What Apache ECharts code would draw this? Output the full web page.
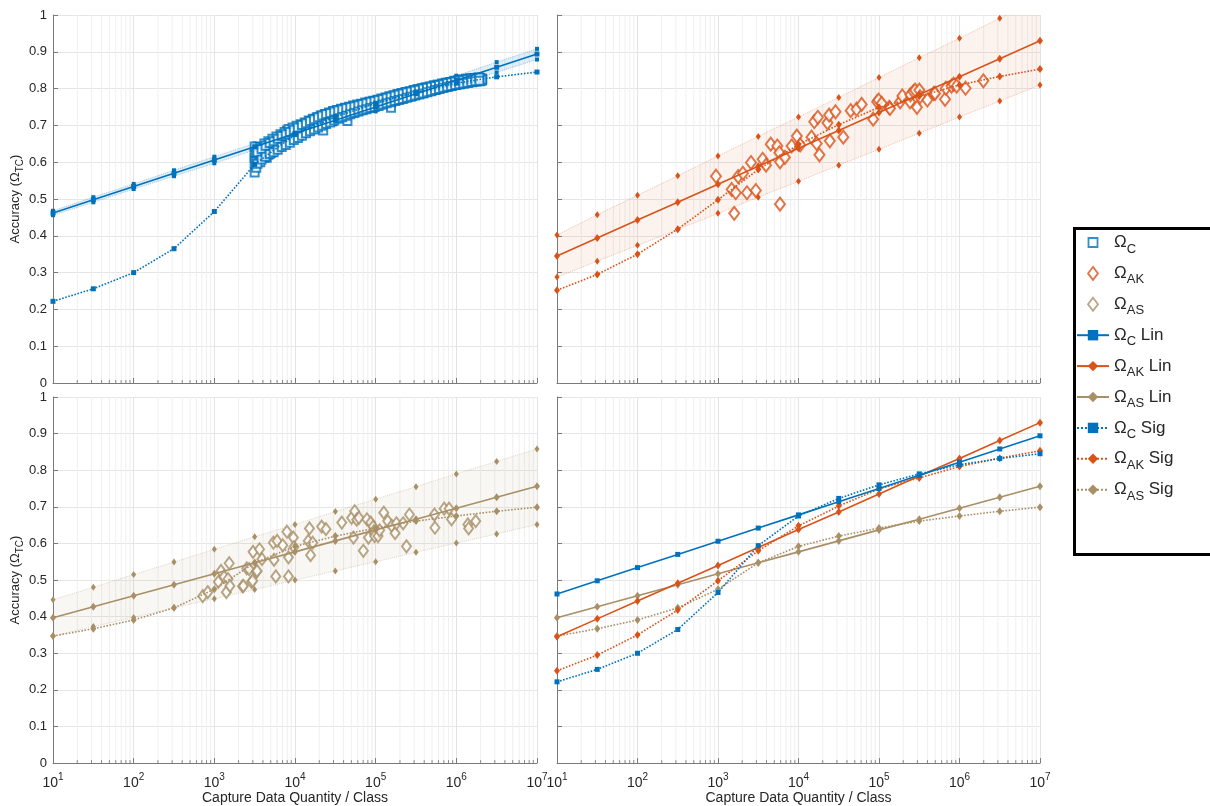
<!DOCTYPE html>
<html>
<head>
<meta charset="utf-8">
<script src="https://cdn.jsdelivr.net/npm/echarts@6/dist/echarts.min.js"></script>
<style>
  html, body { margin: 0; padding: 0; background: #fff; }
  #chart { width: 1210px; height: 806px; }
</style>
</head>
<body>
<div id="chart"></div>
<script>
// Half-decade capture quantities at which the fitted curves are evaluated
const quantities = [10, 31.62, 100, 316.2, 1000, 3162, 10000, 31623, 100000, 316228, 1000000, 3162278, 10000000];

// Ω_C: linear-in-log fit with its confidence bounds, and sigmoid fit
const cLin   = [0.462, 0.498, 0.534, 0.570, 0.606, 0.642, 0.678, 0.714, 0.750, 0.786, 0.822, 0.858, 0.894];
const cUpper = [0.468, 0.505, 0.541, 0.578, 0.615, 0.651, 0.688, 0.725, 0.762, 0.798, 0.835, 0.872, 0.908];
const cLower = [0.456, 0.491, 0.527, 0.562, 0.597, 0.633, 0.668, 0.703, 0.738, 0.774, 0.809, 0.844, 0.879];
const cSig   = [0.222, 0.256, 0.300, 0.365, 0.466, 0.594, 0.675, 0.723, 0.760, 0.790, 0.815, 0.832, 0.845];

// Ω_AK
const akLin   = [0.345, 0.394, 0.443, 0.491, 0.540, 0.589, 0.638, 0.686, 0.735, 0.784, 0.832, 0.881, 0.930];
const akUpper = [0.402, 0.457, 0.510, 0.563, 0.617, 0.670, 0.723, 0.776, 0.830, 0.884, 0.937, 0.991, 1.045];
const akLower = [0.288, 0.331, 0.374, 0.417, 0.461, 0.505, 0.548, 0.592, 0.635, 0.679, 0.723, 0.766, 0.810];
const akSig   = [0.252, 0.295, 0.350, 0.418, 0.498, 0.580, 0.648, 0.702, 0.749, 0.779, 0.810, 0.833, 0.853];

// Ω_AS
const asLin   = [0.397, 0.427, 0.457, 0.487, 0.517, 0.547, 0.577, 0.607, 0.637, 0.666, 0.696, 0.726, 0.756];
const asUpper = [0.446, 0.480, 0.515, 0.549, 0.584, 0.618, 0.652, 0.687, 0.721, 0.755, 0.790, 0.824, 0.858];
const asLower = [0.347, 0.373, 0.398, 0.424, 0.449, 0.474, 0.500, 0.525, 0.550, 0.576, 0.601, 0.626, 0.652];
const asSig   = [0.347, 0.367, 0.391, 0.424, 0.475, 0.547, 0.592, 0.620, 0.642, 0.661, 0.675, 0.688, 0.699];

// Measured Ω_C runs [quantity, accuracy]
const cRuns = [
  [3162,0.572],[3162,0.598],[3162,0.612],[3162,0.625],[3162,0.643],[3311,0.603],
  [3548,0.615],[3548,0.632],[3548,0.608],[3715,0.622],[3981,0.618],[3981,0.640],[3981,0.628],[4169,0.633],
  [4467,0.612],[4467,0.645],[4467,0.630],[4677,0.638],[5012,0.625],[5012,0.650],[5012,0.640],[5248,0.646],
  [5623,0.635],[5623,0.657],[5623,0.648],[5888,0.653],[6310,0.642],[6310,0.662],[6310,0.655],[6607,0.660],
  [7079,0.650],[7079,0.670],[7079,0.663],[7413,0.667],[7943,0.658],[7943,0.686],[7943,0.672],[8318,0.676],
  [8913,0.665],[8913,0.683],[8913,0.674],[9333,0.679],[10000,0.668],[10000,0.690],[10000,0.680],[10470,0.684],
  [11220,0.672],[11220,0.693],[11220,0.686],[11750,0.689],[12590,0.680],[12590,0.698],[12590,0.690],[13180,0.694],
  [14130,0.686],[14130,0.705],[14130,0.697],[14790,0.700],[15850,0.690],[15850,0.710],[15850,0.703],[16600,0.706],
  [17780,0.696],[17780,0.716],[17780,0.709],[18620,0.712],[19950,0.702],[19950,0.720],[19950,0.713],[20890,0.716],
  [22390,0.686],[22390,0.708],[22390,0.724],[22390,0.718],[23440,0.721],[25120,0.712],[25120,0.728],[25120,0.722],
  [26300,0.725],[28180,0.716],[28180,0.732],[28180,0.727],[29510,0.729],[31620,0.720],[31620,0.736],[31620,0.731],
  [33110,0.733],[35480,0.724],[35480,0.739],[35480,0.735],[37150,0.737],[39810,0.728],[39810,0.742],[39810,0.738],
  [41690,0.740],[44670,0.712],[44670,0.731],[44670,0.745],[44670,0.741],[46770,0.743],[50120,0.735],[50120,0.748],
  [50120,0.744],[52480,0.746],[56230,0.738],[56230,0.751],[56230,0.747],[58880,0.749],[63100,0.741],[63100,0.754],
  [63100,0.750],[66070,0.752],[70790,0.744],[70790,0.756],[70790,0.753],[74130,0.755],[79430,0.747],[79430,0.759],
  [79430,0.756],[83180,0.757],[89130,0.750],[89130,0.762],[89130,0.758],[93330,0.760],[100000,0.752],[100000,0.764],
  [100000,0.761],[104710,0.763],[112200,0.756],[112200,0.768],[112200,0.764],[117500,0.766],[125900,0.759],[125900,0.771],
  [125900,0.767],[131800,0.769],[141300,0.762],[141300,0.774],[141300,0.770],[147900,0.772],[154900,0.748],[158500,0.765],
  [158500,0.777],[158500,0.773],[166000,0.775],[177800,0.768],[177800,0.780],[177800,0.776],[186200,0.778],[199500,0.771],
  [199500,0.783],[199500,0.779],[208900,0.781],[223900,0.774],[223900,0.786],[223900,0.782],[234400,0.784],[251200,0.777],
  [251200,0.789],[251200,0.785],[263000,0.787],[281800,0.780],[281800,0.791],[281800,0.788],[295100,0.789],[316200,0.783],
  [316200,0.794],[316200,0.790],[331100,0.792],[354800,0.786],[354800,0.797],[354800,0.793],[371500,0.795],[398100,0.789],
  [398100,0.800],[398100,0.796],[416900,0.798],[446700,0.792],[446700,0.802],[446700,0.799],[467700,0.800],[501200,0.795],
  [501200,0.805],[501200,0.801],[524800,0.803],[562300,0.797],[562300,0.808],[562300,0.804],[588800,0.806],[631000,0.800],
  [631000,0.810],[631000,0.807],[660700,0.808],[707900,0.803],[707900,0.813],[707900,0.809],[741300,0.811],[794300,0.805],
  [794300,0.816],[794300,0.812],[831800,0.813],[891300,0.808],[891300,0.818],[891300,0.814],[933300,0.816],[1000000,0.810],
  [1000000,0.820],[1000000,0.817],[1047000,0.818],[1122000,0.812],[1122000,0.822],[1122000,0.819],[1175000,0.820],[1259000,0.814],
  [1259000,0.824],[1259000,0.821],[1318000,0.822],[1413000,0.816],[1413000,0.826],[1413000,0.822],[1479000,0.823],[1585000,0.817],
  [1585000,0.827],[1585000,0.824],[1660000,0.825],[1778000,0.819],[1778000,0.828],[1778000,0.825],[1862000,0.826],[1995000,0.820],
  [1995000,0.829],[1995000,0.826],[2089000,0.827],[2089000,0.822],
  [3311,0.585],[3311,0.628],[3715,0.600],[3715,0.641],[4169,0.612],[4169,0.651],[4677,0.620],[4677,0.657],
  [5248,0.628],[5248,0.664],[5888,0.636],[5888,0.670],[6607,0.644],[6607,0.676],[7413,0.652],[7413,0.682],
  [8318,0.660],[8318,0.690],[9333,0.665],[9333,0.694],[10470,0.670],[10470,0.699],[11750,0.676],[11750,0.703],
  [13180,0.683],[13180,0.708],[14790,0.690],[14790,0.713],[16600,0.695],[16600,0.718],[18620,0.700],[18620,0.722],
  [20890,0.705],[20890,0.727],[23440,0.710],[23440,0.731],[26300,0.715],[26300,0.735],[29510,0.719],[29510,0.739],
  [33110,0.723],[33110,0.742],[37150,0.727],[37150,0.745],[41690,0.731],[41690,0.748],[46770,0.735],[46770,0.751],
  [52480,0.739],[52480,0.754],[58880,0.742],[58880,0.757],[66070,0.745],[66070,0.759],[74130,0.748],[74130,0.762],
  [83180,0.751],[83180,0.764],[93330,0.754],[93330,0.767],[104710,0.757],[104710,0.770],[117500,0.760],[117500,0.773],
  [131800,0.763],[131800,0.776],[147900,0.766],[147900,0.779],[166000,0.769],[166000,0.782],[186200,0.772],[186200,0.785],
  [208900,0.775],[208900,0.788],[234400,0.778],[234400,0.791],[263000,0.781],[263000,0.793],[295100,0.784],[295100,0.796],
  [331100,0.787],[331100,0.799],[371500,0.790],[371500,0.801],[416900,0.793],[416900,0.804],[467700,0.796],[467700,0.806],
  [524800,0.798],[524800,0.809],[588800,0.801],[588800,0.811],[660700,0.803],[660700,0.814],[741300,0.806],[741300,0.816],
  [831800,0.808],[831800,0.818],[933300,0.811],[933300,0.821],[1047000,0.813],[1047000,0.823],[1175000,0.815],[1175000,0.825],
  [1318000,0.817],[1318000,0.827],[1479000,0.819],[1479000,0.828],[1660000,0.820],[1660000,0.829],[1862000,0.821],[1862000,0.830],
  [2089000,0.825],
  [3420,0.627],[3420,0.596],[3850,0.636],[3850,0.607],[4320,0.645],[4320,0.615],[4850,0.652],[4850,0.622],
  [5440,0.657],[5440,0.627],[6100,0.664],[6100,0.634],[6850,0.671],[6850,0.641],[7690,0.676],[7690,0.647],
  [8630,0.682],[8630,0.653],[9680,0.688],[9680,0.660],[10860,0.694],[10860,0.666],[12190,0.701],[12190,0.672],
  [13680,0.706],[13680,0.679],[15350,0.712],[15350,0.684],[17220,0.717],[17220,0.689],[19320,0.722],[19320,0.694],
  [21680,0.727],[21680,0.699],[24320,0.731],[24320,0.704],[27290,0.734],[27290,0.708],[30620,0.738],[30620,0.713],
  [34360,0.741],[34360,0.718],[38550,0.744],[38550,0.722],[43250,0.747],[43250,0.726],[48530,0.750],[48530,0.730],
  [54450,0.752],[54450,0.734],[61090,0.755],[61090,0.738],[68550,0.758],[68550,0.741],[76910,0.761],[76910,0.744],
  [86300,0.764],[86300,0.747],[96830,0.766],[96830,0.750],[108650,0.769],[108650,0.753],[121900,0.772],[121900,0.757],
  [136800,0.775],[136800,0.760],[153500,0.778],[153500,0.763],[172200,0.781],[172200,0.766],[193200,0.784],[193200,0.769],
  [216800,0.787],[216800,0.772],[243200,0.790],[243200,0.775],[272900,0.792],[272900,0.778],[306200,0.795],[306200,0.781],
  [343600,0.797],[343600,0.784],[385500,0.800],[385500,0.787],[432500,0.802],[432500,0.790],[485300,0.805],[485300,0.793],
  [544500,0.807],[544500,0.796],[610900,0.810],[610900,0.799],[685500,0.812],[685500,0.802],[769100,0.815],[769100,0.805],
  [863000,0.817],[863000,0.807],[968300,0.819],[968300,0.810],[1086500,0.821],[1086500,0.812],[1219000,0.823],[1219000,0.814],
  [1368000,0.825],[1368000,0.816],[1535000,0.827],[1535000,0.818],[1722000,0.828],[1722000,0.820],[1932000,0.830],[1932000,0.821]
];

// Measured Ω_AK runs
const akRuns = [
  [944,0.562],[1480,0.526],[1590,0.461],[1660,0.517],[1780,0.561],[2040,0.570],[2290,0.517],[2570,0.599],
  [2950,0.523],[3590,0.608],[3950,0.592],[4520,0.649],[5460,0.644],[5780,0.626],[5890,0.486],[5890,0.601],
  [6780,0.613],[8220,0.644],[9540,0.671],[10500,0.647],[14500,0.668],[15700,0.710],[16800,0.651],[17400,0.722],
  [18200,0.620],[22900,0.707],[24000,0.728],[24500,0.658],[28800,0.737],[36000,0.668],[44500,0.740],[52600,0.744],
  [60900,0.757],[84600,0.717],[95000,0.764],[98800,0.769],[108000,0.760],[134000,0.749],[137000,0.746],[183000,0.764],
  [195000,0.780],[243000,0.764],[245000,0.783],[268000,0.792],[281000,0.796],[296000,0.749],[317000,0.796],[324000,0.778],
  [399000,0.769],[480000,0.787],[497000,0.787],[661000,0.771],[678000,0.801],[796000,0.807],[847000,0.812],[922000,0.807],
  [1190000,0.801],[1980000,0.821]
];

// Measured Ω_AS runs
const asRuns = [
  [718,0.456],[830,0.467],[1120,0.495],[1210,0.525],[1320,0.509],[1410,0.467],[1480,0.503],[1530,0.546],
  [1560,0.484],[2240,0.483],[2290,0.484],[2520,0.532],[2700,0.530],[2890,0.495],[2990,0.498],[3020,0.577],
  [3320,0.523],[3390,0.525],[3630,0.584],[3890,0.557],[5400,0.602],[5500,0.555],[5780,0.510],[6000,0.607],
  [7050,0.595],[7940,0.632],[8300,0.510],[8300,0.562],[9550,0.616],[9700,0.590],[14600,0.607],[15100,0.641],
  [15600,0.568],[16600,0.602],[21400,0.646],[24200,0.639],[38000,0.657],[50300,0.670],[53000,0.616],[55000,0.688],
  [58200,0.665],[62000,0.670],[70400,0.580],[77900,0.666],[81400,0.616],[86700,0.657],[93000,0.646],[95000,0.633],
  [97000,0.620],[107000,0.620],[112000,0.636],[126000,0.684],[141000,0.661],[158000,0.648],[174000,0.628],[181000,0.655],
  [219000,0.655],[241000,0.592],[262000,0.679],[535000,0.679],[543000,0.643],[707000,0.695],[812000,0.695],[871000,0.666],
  [1390000,0.652],[1420000,0.641],[1740000,0.661]
];

// Axis tick values
const decades = [10, 100, 1000, 10000, 100000, 1000000];
const minorSteps = [2, 3, 4, 5, 6, 7, 8, 9];

const BLUE = '#0072BD', ORANGE = '#D95319', TAN = '#A88F66';
const FONT = "'Liberation Sans', Arial, Helvetica, sans-serif";
const TXT = '#262626';

const pairs = ys => quantities.map((q, i) => [q, ys[i]]);
const minorValues = [];
decades.forEach(d => minorSteps.forEach(m => minorValues.push([d * m, 0])));

const grids = [
  { left: 53,  top: 15,  width: 484, height: 368 },
  { left: 557, top: 15,  width: 483, height: 368 },
  { left: 53,  top: 397, width: 484, height: 368 },
  { left: 557, top: 397, width: 483, height: 368 }
];

const xAxes = grids.map((g, i) => ({
  type: 'log', logBase: 10, gridIndex: i, min: 10, max: 10000000,
  name: i >= 2 ? 'Capture Data Quantity / Class' : '',
  nameLocation: 'middle', nameGap: 27,
  nameTextStyle: { fontFamily: FONT, fontSize: 14, color: TXT },
  axisLine: { show: true, lineStyle: { color: '#7a7a7a', width: 1 } },
  axisTick: { show: true, inside: true, length: 5, lineStyle: { color: '#7a7a7a' } },
  axisLabel: {
    show: i >= 2, margin: 9,
    formatter: v => '{b|10}{s|' + Math.round(Math.log10(v)) + '}',
    rich: {
      b: { fontFamily: FONT, fontSize: 14, color: TXT, lineHeight: 22, verticalAlign: 'middle' },
      s: { fontFamily: FONT, fontSize: 10, color: TXT, lineHeight: 10, verticalAlign: 'top' }
    }
  },
  splitLine: { show: true, lineStyle: { color: '#e3e3e3', width: 1 } }
}));

const yAxes = grids.map((g, i) => ({
  type: 'value', gridIndex: i, min: 0, max: 1, interval: 0.1,
  name: (i % 2 === 0) ? '{a|Accuracy (}{o|Ω}{s|TC}{a|)}' : '',
  nameLocation: 'middle', nameRotate: 90, nameGap: 26,
  nameTextStyle: {
    rich: {
      a: { fontFamily: FONT, fontSize: 13, color: TXT, lineHeight: 20, verticalAlign: 'middle' },
      o: { fontFamily: FONT, fontSize: 13, color: TXT, lineHeight: 20, verticalAlign: 'middle' },
      s: { fontFamily: FONT, fontSize: 10, color: TXT, lineHeight: 9, verticalAlign: 'bottom' }
    }
  },
  axisLine: { show: true, lineStyle: { color: '#7a7a7a', width: 1 } },
  axisTick: { show: true, inside: true, length: 5, lineStyle: { color: '#7a7a7a' } },
  axisLabel: { show: i % 2 === 0, fontFamily: FONT, fontSize: 13, color: TXT, margin: 6 },
  splitLine: { show: true, lineStyle: { color: '#e6e6e6', width: 1 } }
}));

const series = [];

// minor log grid lines and minor ticks drawn through each panel's scales
grids.forEach((g, i) => {
  series.push({
    type: 'custom', xAxisIndex: i, yAxisIndex: i, silent: true, z: 0,
    data: minorValues,
    renderItem: (params, api) => {
      const v = api.value(0);
      const b = api.coord([v, 0]);
      const t = api.coord([v, 1]);
      return {
        type: 'group',
        children: [
          { type: 'line', shape: { x1: b[0], y1: b[1], x2: t[0], y2: t[1] }, style: { stroke: '#efefef', lineWidth: 1 } },
          { type: 'line', shape: { x1: b[0], y1: b[1], x2: b[0], y2: b[1] - 3 }, style: { stroke: '#8a8a8a', lineWidth: 1 } }
        ]
      };
    }
  });
});

// confidence band: shaded polygon between the bounds plus dotted bound lines
function band(idx, lower, upper, color, fill, sym, symSize) {
  series.push({
    type: 'custom', xAxisIndex: idx, yAxisIndex: idx, silent: true, z: 1, clip: true,
    data: quantities.map((q, i) => [q, lower[i], upper[i]]),
    encode: { x: 0, y: [1, 2] },
    renderItem: (params, api) => {
      if (params.dataIndex !== 0) return null;
      const top = quantities.map((q, i) => api.coord([q, upper[i]]));
      const bot = quantities.map((q, i) => api.coord([q, lower[i]])).reverse();
      return { type: 'polygon', shape: { points: top.concat(bot) }, style: { fill: fill } };
    }
  });
  [lower, upper].forEach(ys => series.push({
    type: 'line', xAxisIndex: idx, yAxisIndex: idx,
    data: pairs(ys), symbol: sym, symbolSize: symSize, showSymbol: true,
    itemStyle: { color: color },
    lineStyle: { color: color, opacity: 0.35, width: 1, type: 'dotted' }, silent: true, z: 2
  }));
}

function scatter(idx, name, data, color, sym, size, bw) {
  series.push({
    type: 'scatter', name: name, xAxisIndex: idx, yAxisIndex: idx, data: data,
    symbol: sym, symbolSize: size,
    itemStyle: { color: color, borderColor: color, borderWidth: bw }, z: 3
  });
}

function fit(idx, name, ys, color, dotted, sym, size) {
  series.push({
    type: 'line', name: name, xAxisIndex: idx, yAxisIndex: idx, data: pairs(ys),
    symbol: sym, symbolSize: size, showSymbol: true,
    itemStyle: { color: color },
    lineStyle: { color: color, width: 1.6, type: dotted ? 'dotted' : 'solid' }, z: 4
  });
}

// Panel 1: Ω_C
band(0, cLower, cUpper, BLUE, 'rgba(0,114,189,0.12)', 'rect', 4);
scatter(0, 'ΩC', cRuns, BLUE, 'emptyRect', 8, 1.8);
fit(0, 'ΩC Lin', cLin, BLUE, false, 'rect', 5);
fit(0, 'ΩC Sig', cSig, BLUE, true, 'rect', 5);

// Panel 2: Ω_AK
band(1, akLower, akUpper, ORANGE, 'rgba(217,83,25,0.07)', 'diamond', [5, 7]);
scatter(1, 'ΩAK', akRuns, ORANGE, 'emptyDiamond', [10, 13], 1.5);
fit(1, 'ΩAK Lin', akLin, ORANGE, false, 'diamond', [6, 8]);
fit(1, 'ΩAK Sig', akSig, ORANGE, true, 'diamond', [6, 8]);

// Panel 3: Ω_AS
band(2, asLower, asUpper, TAN, 'rgba(168,143,102,0.07)', 'diamond', [5, 7]);
scatter(2, 'ΩAS', asRuns, TAN, 'emptyDiamond', [9, 12], 1.5);
fit(2, 'ΩAS Lin', asLin, TAN, false, 'diamond', [6, 8]);
fit(2, 'ΩAS Sig', asSig, TAN, true, 'diamond', [6, 8]);

// Panel 4: all fits together
fit(3, 'ΩAS Lin', asLin, TAN, false, 'diamond', [6, 8]);
fit(3, 'ΩAS Sig', asSig, TAN, true, 'diamond', [6, 8]);
fit(3, 'ΩAK Lin', akLin, ORANGE, false, 'diamond', [6, 8]);
fit(3, 'ΩAK Sig', akSig, ORANGE, true, 'diamond', [6, 8]);
fit(3, 'ΩC Lin', cLin, BLUE, false, 'rect', 5);
fit(3, 'ΩC Sig', cSig, BLUE, true, 'rect', 5);

// legend icons: a 9px square inside a 13px frame, and a 10x13 diamond
const SQUARE_ICON = 'path://M0,0L0.01,0M2,2L11,2L11,11L2,11ZM12.99,13L13,13';
const DIAMOND_ICON = 'path://M5,0L10,6.5L5,13L0,6.5Z';
const legendItems = [
  { name: 'ΩC',  icon: SQUARE_ICON,  itemStyle: { color: '#fff', borderColor: BLUE,   borderWidth: 1.8 } },
  { name: 'ΩAK', icon: DIAMOND_ICON, itemStyle: { color: '#fff', borderColor: ORANGE, borderWidth: 1.8 } },
  { name: 'ΩAS', icon: DIAMOND_ICON, itemStyle: { color: '#fff', borderColor: TAN,    borderWidth: 1.8 } },
  { name: 'ΩC Lin' }, { name: 'ΩAK Lin' }, { name: 'ΩAS Lin' },
  { name: 'ΩC Sig' }, { name: 'ΩAK Sig' }, { name: 'ΩAS Sig' }
];

const chart = echarts.init(document.getElementById('chart'), null, { renderer: 'canvas' });
chart.setOption({
  animation: false,
  backgroundColor: '#ffffff',
  grid: grids,
  xAxis: xAxes,
  yAxis: yAxes,
  graphic: [{
    type: 'rect', left: 1073, top: 227, z: 0,
    shape: { width: 150, height: 326 },
    style: { fill: '#ffffff', stroke: '#000000', lineWidth: 3 }
  }],
  legend: {
    data: legendItems, orient: 'vertical', left: 1076, top: 234,
    itemWidth: 32, itemHeight: 13, itemGap: 9.4, padding: 0,
    selectedMode: false, z: 10, symbolKeepAspect: true,
    formatter: name => {
      const m = name.match(/^Ω(\S+)(.*)$/);
      return '{o|Ω}{s|' + m[1] + '}{t|' + m[2] + '}';
    },
    textStyle: {
      rich: {
        o: { fontFamily: FONT, fontSize: 17, color: TXT, lineHeight: 26, verticalAlign: 'middle' },
        s: { fontFamily: FONT, fontSize: 13, color: TXT, lineHeight: 13, verticalAlign: 'bottom' },
        t: { fontFamily: FONT, fontSize: 17, color: TXT, lineHeight: 26, verticalAlign: 'middle' }
      }
    }
  },
  series: series
});
</script>
</body>
</html>
